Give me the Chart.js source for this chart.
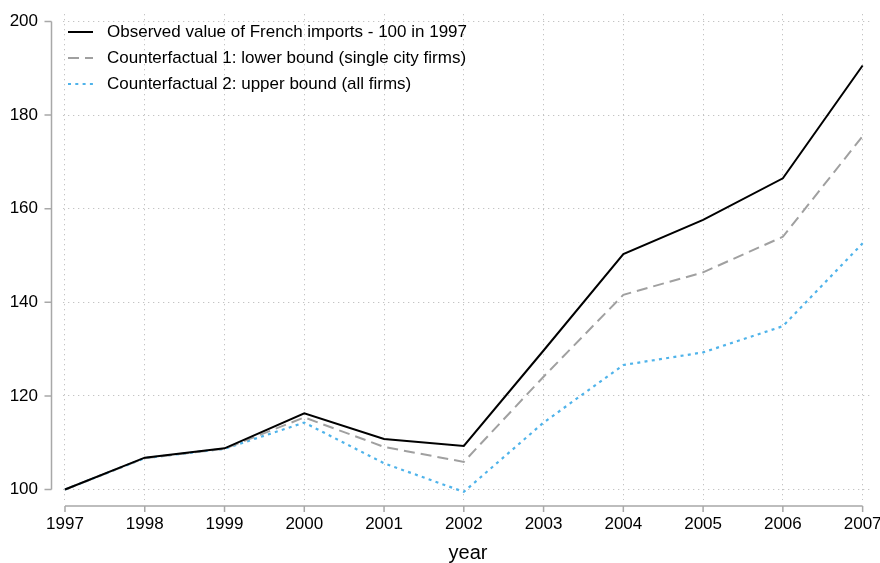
<!DOCTYPE html>
<html>
<head>
<meta charset="utf-8">
<script src="https://cdn.jsdelivr.net/npm/chart.js@4/dist/chart.umd.min.js"></script>
<style>
  html, body { margin: 0; padding: 0; background: #ffffff; }
  canvas { display: block; }
</style>
</head>
<body>
<canvas id="c" width="880" height="563"></canvas>
<script>
const years = [1997, 1998, 1999, 2000, 2001, 2002, 2003, 2004, 2005, 2006, 2007];
const observed = [100, 106.8, 108.8, 116.3, 110.8, 109.3, 129.7, 150.3, 157.6, 166.5, 190.6];
const counterfactual1 = [100, 106.7, 108.7, 115.4, 109.1, 105.9, 124.1, 141.6, 146.4, 154.0, 175.5];
const counterfactual2 = [100, 106.7, 108.7, 114.3, 105.6, 99.5, 114.3, 126.6, 129.3, 134.9, 152.6];
const yTicks = [100, 120, 140, 160, 180, 200];
const seriesNames = [
  "Observed value of French imports - 100 in 1997",
  "Counterfactual 1: lower bound (single city firms)",
  "Counterfactual 2: upper bound (all firms)"
];

const FONT = 'Arial, "Liberation Sans", Helvetica, sans-serif';
const toPts = (vals) => years.map((yr, i) => ({ x: yr, y: vals[i] }));

const offsetAxes = {
  id: 'offsetAxes',
  afterDatasetsDraw(chart) {
    const { ctx, chartArea, scales } = chart;
    const xs = scales.x, ys = scales.y;
    ctx.save();
    ctx.strokeStyle = '#a8a8a8';
    ctx.lineWidth = 1.5;
    ctx.setLineDash([]);
    const ax = chartArea.left - 11.5;
    ctx.beginPath();
    ctx.moveTo(ax, ys.getPixelForValue(yTicks[yTicks.length - 1]));
    ctx.lineTo(ax, ys.getPixelForValue(yTicks[0]));
    yTicks.forEach(v => {
      const p = ys.getPixelForValue(v);
      ctx.moveTo(ax - 7, p);
      ctx.lineTo(ax, p);
    });
    ctx.stroke();
    const ay = chartArea.bottom + 6;
    ctx.beginPath();
    ctx.moveTo(xs.getPixelForValue(years[0]), ay);
    ctx.lineTo(xs.getPixelForValue(years[years.length - 1]), ay);
    years.forEach(v => {
      const p = xs.getPixelForValue(v);
      ctx.moveTo(p, ay);
      ctx.lineTo(p, ay + 6);
    });
    ctx.stroke();
    ctx.restore();
  }
};

const insideLegend = {
  id: 'insideLegend',
  afterDatasetsDraw(chart) {
    const { ctx, chartArea } = chart;
    ctx.save();
    ctx.font = '17px ' + FONT;
    ctx.textBaseline = 'middle';
    ctx.textAlign = 'left';
    chart.data.datasets.forEach((ds, i) => {
      const y = chartArea.top + 18 + i * 26;
      const x0 = chartArea.left + 5;
      ctx.beginPath();
      ctx.strokeStyle = ds.borderColor;
      ctx.lineWidth = ds.borderWidth;
      ctx.setLineDash(ds.borderDash || []);
      ctx.moveTo(x0, y);
      ctx.lineTo(x0 + 25, y);
      ctx.stroke();
      ctx.setLineDash([]);
      ctx.fillStyle = '#000000';
      ctx.fillText(ds.label, x0 + 39, y);
    });
    ctx.restore();
  }
};

new Chart(document.getElementById('c'), {
  type: 'line',
  data: {
    datasets: [
      {
        label: seriesNames[0],
        data: toPts(observed),
        borderColor: '#000000',
        backgroundColor: '#000000',
        borderWidth: 2,
        pointRadius: 0,
        tension: 0
      },
      {
        label: seriesNames[1],
        data: toPts(counterfactual1),
        borderColor: '#a0a0a0',
        backgroundColor: '#a0a0a0',
        borderWidth: 2,
        borderDash: [11, 6],
        pointRadius: 0,
        tension: 0
      },
      {
        label: seriesNames[2],
        data: toPts(counterfactual2),
        borderColor: '#4fb3ea',
        backgroundColor: '#4fb3ea',
        borderWidth: 2.2,
        borderDash: [3, 4.3],
        pointRadius: 0,
        tension: 0
      }
    ]
  },
  options: {
    responsive: false,
    animation: false,
    layout: { padding: { top: 14, right: 7, bottom: 0, left: 0 } },
    plugins: {
      tooltip: { enabled: false },
      legend: { display: false }
    },
    scales: {
      x: {
        type: 'linear',
        min: 1996.975,
        max: 2007.13,
        afterBuildTicks: (s) => { s.ticks = years.map(v => ({ value: v })); },
        afterFit: (s) => { s.height = 63; s.paddingLeft = 0; s.paddingRight = 0; },
        border: { display: false, dash: [1.3, 3.7] },
        grid: { color: '#c4c4c4', lineWidth: 1, drawTicks: false },
        ticks: {
          padding: 14,
          autoSkip: false,
          maxRotation: 0,
          color: '#000000',
          font: { family: FONT, size: 17 },
          callback: (v) => String(v)
        },
        title: {
          display: true,
          text: 'year',
          color: '#000000',
          font: { family: FONT, size: 20 },
          padding: { top: 0, bottom: -2 }
        }
      },
      y: {
        min: 97.756,
        max: 201.6,
        afterBuildTicks: (s) => { s.ticks = yTicks.map(v => ({ value: v })); },
        afterFit: (s) => { s.width = 63; s.paddingTop = 0; s.paddingBottom = 0; },
        border: { display: false, dash: [1.3, 3.7] },
        grid: { color: '#c4c4c4', lineWidth: 1, drawTicks: false },
        ticks: {
          padding: 25,
          color: '#000000',
          font: { family: FONT, size: 17 },
          callback: (v) => String(v)
        }
      }
    }
  },
  plugins: [offsetAxes, insideLegend]
});
</script>
</body>
</html>
